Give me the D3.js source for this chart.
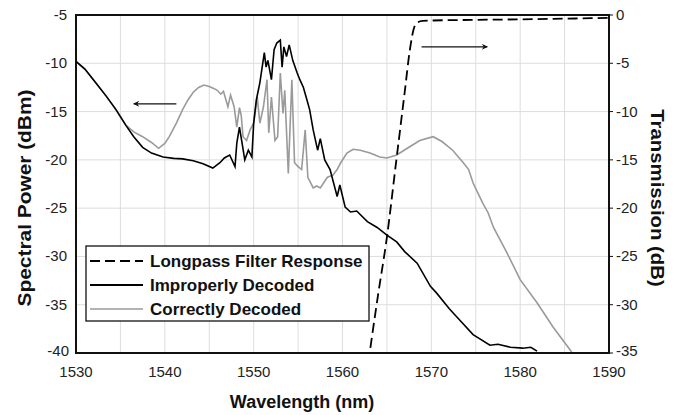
<!DOCTYPE html>
<html lang="en">
	<head>
		<meta charset="UTF-8" />
		<title>Spectral Power vs Wavelength</title>
		<script src="https://d3js.org/d3.v7.min.js"></script>
		<style>
			body {
				margin: 0;
				background: #fff;
			}
			svg {
				display: block;
				font-family: 'Liberation Sans', Arial, sans-serif;
			}
			.grid line {
				stroke: #ddd;
				stroke-width: 1px;
			}
			.tick-label {
				font-size: 15px;
				fill: #222;
			}
			.axis-title {
				font-size: 18px;
				font-weight: bold;
				fill: #111;
			}
			.legend text {
				font-size: 17px;
				font-weight: bold;
				fill: #111;
			}
		</style>
	</head>
	<body>
		<svg width="679" height="415"></svg>
		<script>
			// wavelength ticks and value ticks
			const xTicks = [1530, 1540, 1550, 1560, 1570, 1580, 1590];
			const leftTicks = [-5, -10, -15, -20, -25, -30, -35, -40];
			const rightTicks = [0, -5, -10, -15, -20, -25, -30, -35];

			// Correctly Decoded (gray), dBm
			const correctWl = [1530, 1531, 1532.2, 1533.4, 1534.5, 1535.6, 1536.5, 1537.5, 1538.5, 1539.3,
				1540, 1540.5, 1541.3, 1542, 1542.6, 1543.2, 1543.8, 1544.4, 1545, 1545.5, 1545.9, 1546.3,
				1546.6, 1547.1, 1547.4, 1547.8, 1548.1, 1548.4, 1548.6, 1548.8, 1549.2, 1549.6, 1550,
				1550.4, 1550.7, 1551.1, 1551.5, 1551.7, 1552, 1552.4, 1552.7, 1553, 1553.3, 1553.5,
				1553.9, 1554.3, 1554.6, 1555, 1555.4, 1555.8, 1556.1, 1556.7, 1557.1, 1557.5, 1558.3,
				1558.9, 1559.4, 1559.8, 1560.5, 1561.2, 1562, 1563.1, 1564.2, 1565, 1566.1, 1567.3,
				1568.7, 1570.2, 1571.2, 1572.4, 1573.6, 1574.2, 1574.7, 1575.8, 1576.4, 1577, 1578.5,
				1580, 1581.9, 1583.7, 1585.8];
			const correctDbm = [-9.8, -10.6, -12.0, -13.4, -14.8, -16.4, -17.1, -17.6, -18.2, -18.8,
				-18.3, -17.6, -16.2, -14.8, -13.8, -13.0, -12.5, -12.25, -12.4, -12.6, -12.8, -13.2,
				-12.9, -14.5, -13.3, -14.5, -16.6, -14.6, -15.4, -17.6, -18.0, -16.9, -16.2,
				-13.5, -16.2, -14.5, -11.7, -17.2, -13.5, -18.0, -17.6, -11.0, -15.2, -12.8,
				-21.4, -11.7, -20.3, -20.7, -21.0, -16.9, -21.8, -22.9, -22.7, -22.9, -21.8,
				-21.6, -21.0, -20.3, -19.3, -18.9, -19.0, -19.3, -19.7, -19.8, -19.5, -18.8,
				-18.0, -17.6, -18.1, -19.0, -20.3, -21.0, -22.4, -24.5, -25.5, -27.0, -29.6,
				-32.4, -34.8, -37.3, -39.9];

			// Improperly Decoded (black), dBm
			const improperWl = [1530, 1531, 1532.2, 1533.4, 1534.5, 1535.6, 1536.5, 1537.5, 1538.5, 1539.8,
				1541, 1542, 1543.2, 1544.3, 1545.4, 1546.2, 1546.7, 1547.3, 1547.9, 1548.1, 1548.4,
				1548.7, 1549, 1549.4, 1549.8, 1550, 1550.3, 1550.7, 1551.2, 1551.4, 1551.6, 1552,
				1552.3, 1552.6, 1553, 1553.2, 1553.4, 1553.7, 1554, 1554.4, 1554.9, 1555.2, 1555.6,
				1556, 1556.3, 1556.7, 1557.2, 1557.5, 1558, 1558.6, 1559.4, 1559.7, 1560.3, 1560.9,
				1561.6, 1562.8, 1563.9, 1565, 1566.1, 1567, 1568.4, 1569.9, 1570.6, 1572, 1572.9,
				1574.7, 1576.6, 1577.5, 1578.9, 1580.3, 1581.2, 1581.9];
			const improperDbm = [-9.8, -10.6, -12.0, -13.4, -14.8, -16.4, -17.6, -18.7, -19.3, -19.7,
				-19.85, -19.9, -20.1, -20.4, -20.85, -20.3, -19.8, -19.5, -20.7, -18.3, -16.6,
				-18.3, -20.0, -19.0, -19.7, -16.2, -13.8, -12.0, -8.9, -10.4, -9.7, -11.7,
				-8.6, -7.9, -7.6, -10.4, -8.3, -9.3, -8.1, -9.7, -11.0, -11.7, -12.5,
				-13.8, -14.8, -16.9, -19.0, -17.8, -20.0, -21.0, -23.8, -22.6, -24.9, -25.4,
				-25.3, -26.4, -27.0, -27.8, -28.5, -29.5, -30.7, -33.1, -33.8, -35.4, -36.3,
				-38.1, -39.2, -39.1, -39.4, -39.5, -39.4, -39.8];

			// Longpass Filter Response (dashed), dB on right axis
			const filterWl = [1562.9, 1564, 1565, 1566, 1567, 1567.6, 1568, 1568.4, 1569, 1575, 1580, 1590];
			const filterDb = [-36, -29, -23, -15.5, -8, -3.5, -1.5, -0.8, -0.6, -0.5, -0.45, -0.3];

			const width = 679,
				height = 415;
			const margin = { top: 15, right: 70, bottom: 62, left: 76 };
			const x0 = margin.left,
				x1 = width - margin.right,
				y0 = margin.top,
				y1 = height - margin.bottom;

			const svg = d3.select('svg');
			svg.append('rect').attr('width', width).attr('height', height).attr('fill', '#fff');

			const x = d3.scaleLinear().domain([1530, 1590]).range([x0, x1]);
			const y = d3.scaleLinear().domain([-40, -5]).range([y1, y0]);
			const y2 = d3.scaleLinear().domain([-35, 0]).range([y1, y0]);

			// grid
			const grid = svg.append('g').attr('class', 'grid');
			grid.selectAll('.vx')
				.data(d3.range(1535, 1590, 5))
				.enter()
				.append('line')
				.attr('x1', (d) => x(d))
				.attr('x2', (d) => x(d))
				.attr('y1', y0)
				.attr('y2', y1);
			grid.selectAll('.hy')
				.data(d3.range(-35, -5, 5))
				.enter()
				.append('line')
				.attr('x1', x0)
				.attr('x2', x1)
				.attr('y1', (d) => y(d))
				.attr('y2', (d) => y(d));

			const line = d3
				.line()
				.x((d) => x(d[0]))
				.y((d) => d[2](d[1]));

			svg.append('clipPath')
				.attr('id', 'plot')
				.append('rect')
				.attr('x', x0)
				.attr('y', y0)
				.attr('width', x1 - x0)
				.attr('height', y1 - y0);

			const plot = svg.append('g').attr('clip-path', 'url(#plot)');

			plot.append('path')
				.datum(correctWl.map((w, i) => [w, correctDbm[i], y]))
				.attr('d', line)
				.attr('fill', 'none')
				.attr('stroke', '#9a9a9a')
				.attr('stroke-width', 1.6);

			plot.append('path')
				.datum(improperWl.map((w, i) => [w, improperDbm[i], y]))
				.attr('d', line)
				.attr('fill', 'none')
				.attr('stroke', '#000')
				.attr('stroke-width', 1.6);

			plot.append('path')
				.datum(filterWl.map((w, i) => [w, filterDb[i], y2]))
				.attr('d', line.curve(d3.curveMonotoneX))
				.attr('fill', 'none')
				.attr('stroke', '#000')
				.attr('stroke-width', 1.8)
				.attr('stroke-dasharray', '10,5');

			// frame
			svg.append('rect')
				.attr('x', x0)
				.attr('y', y0)
				.attr('width', x1 - x0)
				.attr('height', y1 - y0)
				.attr('fill', 'none')
				.attr('stroke', '#111')
				.attr('stroke-width', 2);

			// left tick labels
			svg.append('g')
				.selectAll('text')
				.data(leftTicks)
				.enter()
				.append('text')
				.attr('class', 'tick-label')
				.attr('x', (d) => x0 - (d === -40 ? 7 : 9))
				.attr('y', (d) => y(d) + (d === -40 ? 3 : 5))
				.attr('text-anchor', 'end')
				.text((d) => d);

			// right ticks and labels
			svg.append('g')
				.selectAll('line')
				.data(rightTicks)
				.enter()
				.append('line')
				.attr('x1', x1)
				.attr('x2', x1 + 4)
				.attr('y1', (d) => y2(d))
				.attr('y2', (d) => y2(d))
				.attr('stroke', '#111')
				.attr('stroke-width', 1);
			svg.append('g')
				.selectAll('text')
				.data(rightTicks)
				.enter()
				.append('text')
				.attr('class', 'tick-label')
				.attr('x', x1 + 7)
				.attr('y', (d) => y2(d) + (d === -35 ? 3 : 5))
				.text((d) => d);

			// bottom tick labels
			svg.append('g')
				.selectAll('text')
				.data(xTicks)
				.enter()
				.append('text')
				.attr('class', 'tick-label')
				.attr('x', (d) => x(d))
				.attr('y', y1 + 24)
				.attr('text-anchor', 'middle')
				.text((d) => d);

			// axis titles
			svg.append('text')
				.attr('class', 'axis-title')
				.attr('text-anchor', 'middle')
				.attr('transform', `translate(31,${(y0 + y1) / 2 + 14}) rotate(-90) scale(1.16,1.05)`)
				.text('Spectral Power (dBm)');
			svg.append('text')
				.attr('class', 'axis-title')
				.attr('text-anchor', 'middle')
				.attr('transform', `translate(651,${(y0 + y1) / 2 + 14}) rotate(90) scale(1.13,1.05)`)
				.text('Transmission (dB)');
			svg.append('text')
				.attr('class', 'axis-title')
				.attr('text-anchor', 'middle')
				.attr('x', 302)
				.attr('y', 408)
				.text('Wavelength (nm)');

			// arrows pointing at the axis each curve uses
			const defs = svg.append('defs');
			defs.append('marker')
				.attr('id', 'arrow')
				.attr('viewBox', '0 0 10 10')
				.attr('refX', 9)
				.attr('refY', 5)
				.attr('markerWidth', 10)
				.attr('markerHeight', 6)
				.attr('markerUnits', 'userSpaceOnUse')
				.attr('orient', 'auto')
				.append('path')
				.attr('d', 'M0,0 L10,5 L0,10 L3,5 Z')
				.attr('fill', '#111');

			const arrows = [
				{ from: [1541.3, -14.2], to: [1536.5, -14.2], scale: y },
				{ from: [1568.9, -3.3], to: [1576.3, -3.3], scale: y2 },
			];
			svg.append('g')
				.selectAll('line')
				.data(arrows)
				.enter()
				.append('line')
				.attr('x1', (d) => x(d.from[0]))
				.attr('y1', (d) => d.scale(d.from[1]))
				.attr('x2', (d) => x(d.to[0]))
				.attr('y2', (d) => d.scale(d.to[1]))
				.attr('stroke', '#111')
				.attr('stroke-width', 1.3)
				.attr('marker-end', 'url(#arrow)');

			// legend
			const legendItems = [
				{ label: 'Longpass Filter Response', color: '#000', width: 1.8, dash: '10,5' },
				{ label: 'Improperly Decoded', color: '#000', width: 1.8, dash: null },
				{ label: 'Correctly Decoded', color: '#9a9a9a', width: 1.4, dash: null },
			];
			const legend = svg.append('g').attr('class', 'legend');
			legend.append('rect')
				.attr('x', 86)
				.attr('y', 246)
				.attr('width', 283)
				.attr('height', 75)
				.attr('fill', '#fff')
				.attr('stroke', '#111')
				.attr('stroke-width', 1.3);
			const rows = legend
				.selectAll('g')
				.data(legendItems)
				.enter()
				.append('g')
				.attr('transform', (d, i) => `translate(0,${261 + i * 24})`);
			rows.append('line')
				.attr('x1', 90)
				.attr('x2', 143)
				.attr('stroke', (d) => d.color)
				.attr('stroke-width', (d) => d.width)
				.attr('stroke-dasharray', (d) => d.dash);
			rows.append('text')
				.attr('x', 150)
				.attr('y', 6)
				.text((d) => d.label);
		</script>
	</body>
</html>
